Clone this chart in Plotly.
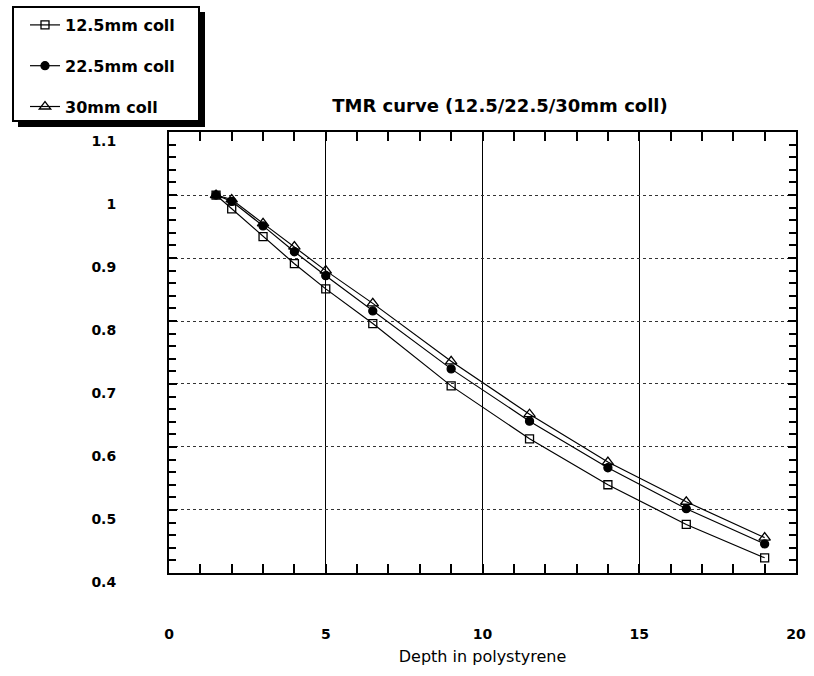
import plotly.graph_objects as go

# ---- data ----
depth = [1.5, 2, 3, 4, 5, 6.5, 9, 11.5, 14, 16.5, 19]
tmr_125 = [1.0, 0.978, 0.934, 0.891, 0.851, 0.796, 0.697, 0.613, 0.540, 0.477, 0.424]
tmr_225 = [1.0, 0.990, 0.951, 0.910, 0.872, 0.816, 0.724, 0.641, 0.567, 0.502, 0.446]
tmr_30 = [1.0, 0.993, 0.955, 0.918, 0.880, 0.828, 0.736, 0.652, 0.576, 0.513, 0.456]
series_names = ["12.5mm coll", "22.5mm coll", "30mm coll"]
x_ticks = [0, 5, 10, 15, 20]
y_ticks = [0.4, 0.5, 0.6, 0.7, 0.8, 0.9, 1.0, 1.1]
y_tick_labels = ["0.4", "0.5", "0.6", "0.7", "0.8", "0.9", "1", "1.1"]

W, H = 814, 676
L, R, T, B = 169, 18, 132, 103
PW, PH = W - L - R, H - T - B

FONT = "DejaVu Sans"

fig = go.Figure()
styles = [
    dict(symbol="square-open", size=8, color="black"),
    dict(symbol="circle", size=8, color="black"),
    dict(symbol="triangle-up-open", size=10, color="black"),
]
for name, ys, st, g in zip(series_names, [tmr_125, tmr_225, tmr_30], styles, ["a", "b", "c"]):
    fig.add_trace(go.Scatter(
        x=depth, y=ys, name=name, mode="lines+markers", legendgroup=g,
        line=dict(color="black", width=1.2),
        marker=dict(symbol=st["symbol"], size=st["size"], color=st["color"],
                    line=dict(color="black", width=1.3)),
    ))

def px2paper_x(px):
    return (px - L) / PW

def px2paper_y(py):
    return (H - B - py) / PH

# legend frame with drop shadow (legend itself is transparent on top)
fig.add_shape(type="rect", xref="paper", yref="paper",
              x0=px2paper_x(18), x1=px2paper_x(205),
              y0=px2paper_y(127), y1=px2paper_y(12),
              fillcolor="black", line=dict(width=0), layer="above")
fig.add_shape(type="rect", xref="paper", yref="paper",
              x0=px2paper_x(13), x1=px2paper_x(199),
              y0=px2paper_y(121), y1=px2paper_y(7),
              fillcolor="white", line=dict(color="black", width=2), layer="above")

fig.update_layout(
    width=W, height=H,
    margin=dict(l=L, r=R, t=T, b=B, pad=0, autoexpand=False),
    paper_bgcolor="white", plot_bgcolor="white",
    font=dict(family=FONT, color="black"),
    title=dict(text="TMR curve (12.5/22.5/30mm coll)", x=500 / W, xanchor="center",
               y=1 - 106 / H, yanchor="middle", xref="container", yref="container",
               font=dict(family=FONT, size=18, weight="bold")),
    showlegend=True,
    legend=dict(xref="container", yref="container", x=25 / W, y=1 - 8 / H,
                xanchor="left", yanchor="top", bgcolor="rgba(0,0,0,0)",
                borderwidth=0, tracegroupgap=17,
                font=dict(family=FONT, size=16, weight="bold")),
    xaxis=dict(range=[0, 20], tickvals=x_ticks, ticks="inside", ticklen=9, tickwidth=1.5,
               tickcolor="black", showline=True, linecolor="black", linewidth=2, mirror="ticks",
               showgrid=True, gridcolor="black", gridwidth=1.3, zeroline=False,
               minor=dict(dtick=1, ticks="inside", ticklen=9, tickwidth=1.5, tickcolor="black",
                          showgrid=False),
               automargin=False, ticklabelstandoff=47,
               tickfont=dict(family=FONT, size=14, weight="bold"),
               title=dict(text="Depth in polystyrene", standoff=10,
                          font=dict(family=FONT, size=16))),
    yaxis=dict(range=[0.3999, 1.1001], tickvals=y_ticks, ticktext=y_tick_labels, ticks="inside",
               ticklen=8, tickwidth=1.5, tickcolor="black", showline=True, linecolor="black",
               linewidth=2, mirror="ticks", showgrid=True, gridcolor="#333", gridwidth=1,
               griddash="dot", zeroline=False,
               minor=dict(dtick=0.02, ticks="inside", ticklen=7, tickwidth=1.5, tickcolor="black",
                          showgrid=False),
               automargin=False, ticklabelstandoff=48, ticklabelshift=9,
               tickfont=dict(family=FONT, size=14, weight="bold")),
)

fig.write_html("out.html", config={"displayModeBar": False},
               post_script="document.body.style.margin='0';")
